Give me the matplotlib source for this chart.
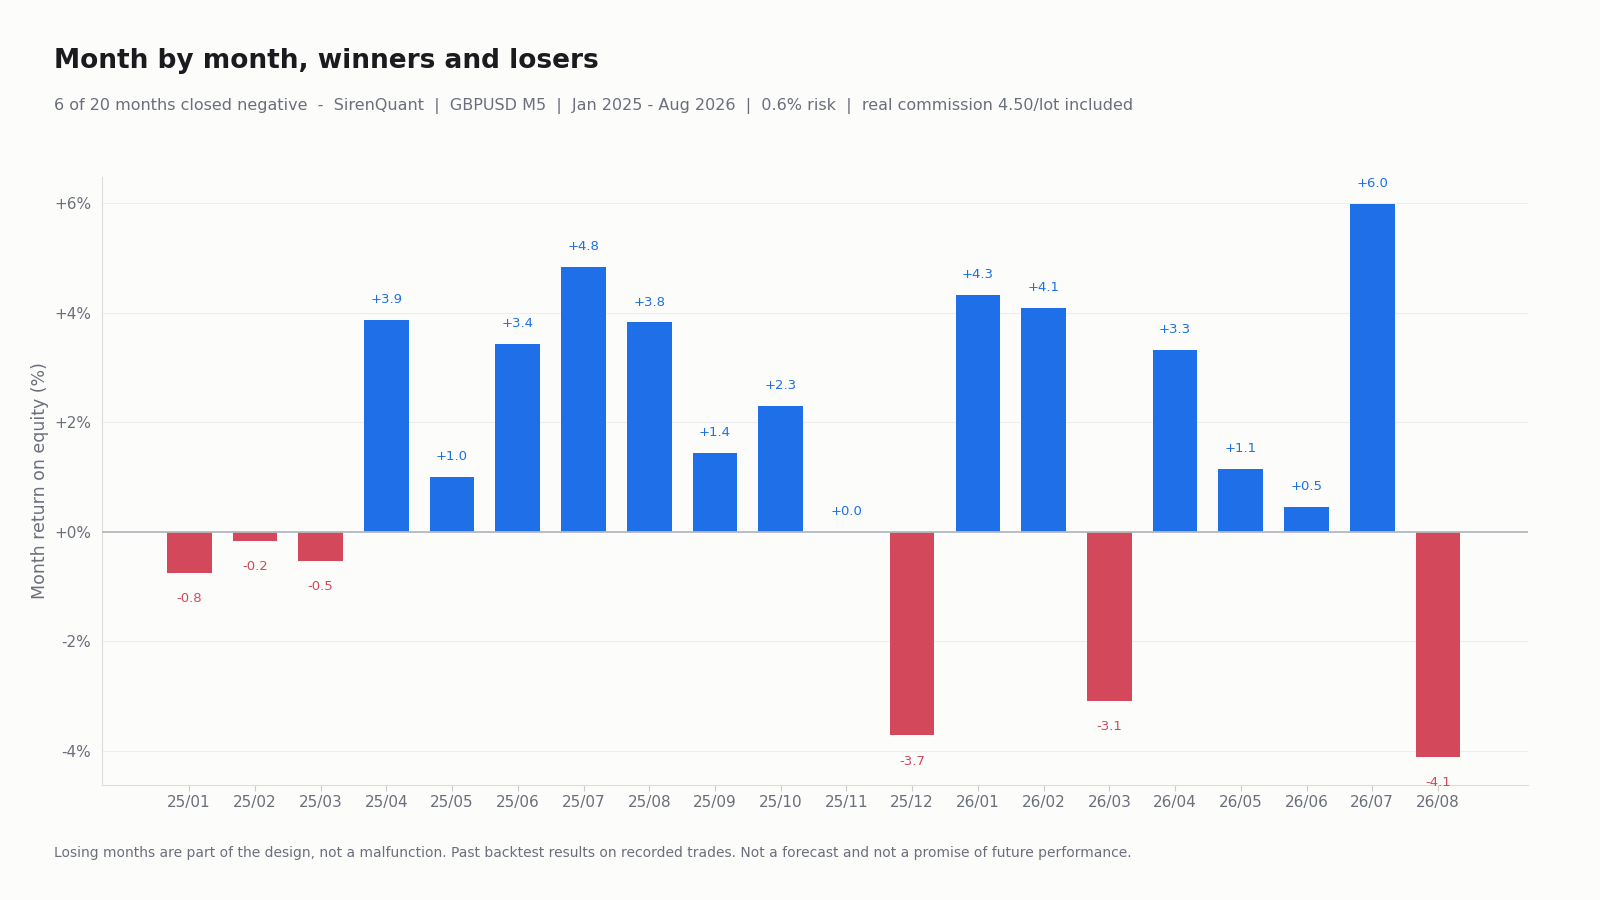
import matplotlib.pyplot as plt
import numpy as np

months = ['25/01', '25/02', '25/03', '25/04', '25/05', '25/06', '25/07', '25/08', '25/09', '25/10',
          '25/11', '25/12', '26/01', '26/02', '26/03', '26/04', '26/05', '26/06', '26/07', '26/08']
returns = [-0.75, -0.17, -0.53, 3.86, 1.0, 3.43, 4.83, 3.82, 1.43, 2.3,
           0.0, -3.72, 4.32, 4.09, -3.09, 3.32, 1.14, 0.46, 5.98, -4.11]

blue = '#1f6fe8'
red = '#d4485c'
grey = '#6b6f7b'

fig = plt.figure(figsize=(16, 9), dpi=100, facecolor='#fcfcfb')
ax = fig.add_axes([0.064, 0.128, 0.891, 0.675], facecolor='#fcfcfb')

x = np.arange(len(months))
colors = [blue if v >= 0 else red for v in returns]
ax.bar(x, returns, width=0.68, color=colors, zorder=2)

for xi, v, c in zip(x, returns, colors):
    if v >= 0:
        ax.annotate('%+.1f' % v, (xi, v), xytext=(0, 10), textcoords='offset points',
                    ha='center', va='bottom', fontsize=9.5, color=c)
    else:
        ax.annotate('%+.1f' % v, (xi, v), xytext=(0, -14), textcoords='offset points',
                    ha='center', va='top', fontsize=9.5, color=c)

ax.axhline(0, color='#b5b8bf', lw=1.3, zorder=3)
ax.set_xlim(-1.32, 20.37)
ax.set_ylim(-4.62, 6.47)
ax.set_yticks([-4, -2, 0, 2, 4, 6])
ax.set_yticklabels(['-4%', '-2%', '+0%', '+2%', '+4%', '+6%'])
ax.set_xticks(x)
ax.set_xticklabels(months)
ax.tick_params(colors=grey, labelsize=11, length=4)
ax.tick_params(axis='y', length=0, pad=8)
ax.tick_params(axis='x', color='#cccccc')
ax.grid(axis='y', color='#eeeeee', lw=0.8, zorder=0)
for s in ['top', 'right']:
    ax.spines[s].set_visible(False)
for s in ['left', 'bottom']:
    ax.spines[s].set_color('#dddddd')
ax.set_ylabel('Month return on equity (%)', color=grey, fontsize=12.5)

fig.text(0.034, 0.932, 'Month by month, winners and losers', fontsize=19, fontweight='bold',
         color='#1a1a1f', va='center')
fig.text(0.034, 0.882, '6 of 20 months closed negative  -  SirenQuant  |  GBPUSD M5  |  Jan 2025 - Aug 2026  |  0.6% risk  |  real commission 4.50/lot included',
         fontsize=11.5, color=grey, va='center')
fig.text(0.034, 0.052, 'Losing months are part of the design, not a malfunction. Past backtest results on recorded trades. Not a forecast and not a promise of future performance.',
         fontsize=10, color=grey, va='center')

fig.savefig('out.png', dpi=100, facecolor=fig.get_facecolor())
